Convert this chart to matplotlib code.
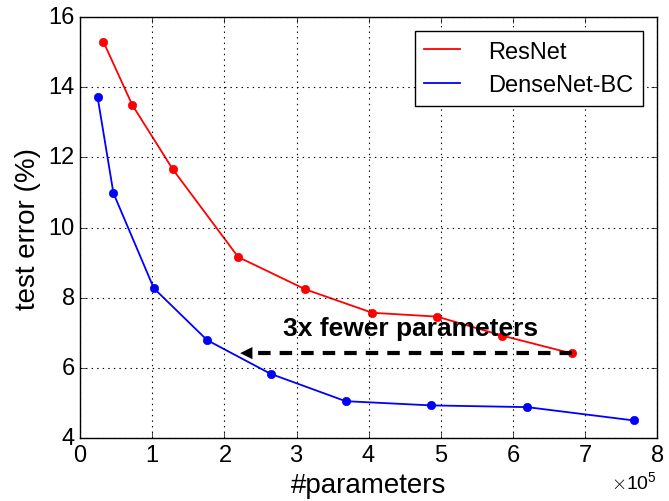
import numpy as np
import matplotlib.pyplot as plt

plt.style.use('classic')
plt.rcParams['font.family'] = ['Liberation Sans', 'DejaVu Sans']
plt.rcParams['lines.scale_dashes'] = False

# data (number of parameters, test error %)
resnet_params = [0.32e5, 0.72e5, 1.28e5, 2.19e5, 3.12e5, 4.05e5, 4.95e5, 5.85e5, 6.82e5]
resnet_error = [15.3, 13.5, 11.67, 9.16, 8.24, 7.57, 7.46, 6.92, 6.41]

densenet_params = [0.24e5, 0.46e5, 1.02e5, 1.76e5, 2.64e5, 3.68e5, 4.86e5, 6.20e5, 7.68e5]
densenet_error = [13.72, 10.98, 8.27, 6.79, 5.83, 5.05, 4.93, 4.88, 4.5]

arrow_y = 6.42
arrow_from = 6.82e5
arrow_to = 2.18e5

fig = plt.figure(figsize=(6.69, 5.02), dpi=100, facecolor='white')
ax = fig.add_axes([0.12, 0.1255, 0.862, 0.8385])

ax.plot(resnet_params, resnet_error, '-', color='red', lw=1.3, label='ResNet')
ax.plot(resnet_params, resnet_error, 'o', color='red', mec='red', ms=6)
ax.plot(densenet_params, densenet_error, '-', color='blue', lw=1.3, label='DenseNet-BC')
ax.plot(densenet_params, densenet_error, 'o', color='blue', mec='blue', ms=6)

# dashed arrow
ax.plot([arrow_from, arrow_to + 0.2e5], [arrow_y, arrow_y], '-', color='black',
        lw=3, dashes=(9, 6.5))
ax.annotate('', xy=(arrow_to, arrow_y), xytext=(arrow_to + 0.2e5, arrow_y),
            arrowprops=dict(arrowstyle='-|>', color='black', lw=0,
                            mutation_scale=22))
ax.text(4.58e5, 7.13, '3x fewer parameters', fontsize=19, fontweight='bold',
        ha='center', va='center')

ax.set_xlim(0, 8e5)
ax.set_ylim(4, 16)
ax.set_xticks(np.arange(0, 8.1e5, 1e5))
ax.set_yticks(np.arange(4, 17, 2))
ax.ticklabel_format(axis='x', style='sci', scilimits=(0, 0), useMathText=True)
ax.xaxis.get_offset_text().set_fontsize(14)
ax.tick_params(labelsize=17)
ax.grid(True, linestyle=':', color='black', lw=0.8)

ax.set_xlabel('#parameters', fontsize=20)
ax.set_ylabel('test error (%)', fontsize=20)

ax.legend(loc='upper right', fontsize=17, numpoints=1, handlelength=1.5,
          handletextpad=1.2, borderaxespad=0.6)

fig.savefig('out.png', dpi=100, facecolor='white')
